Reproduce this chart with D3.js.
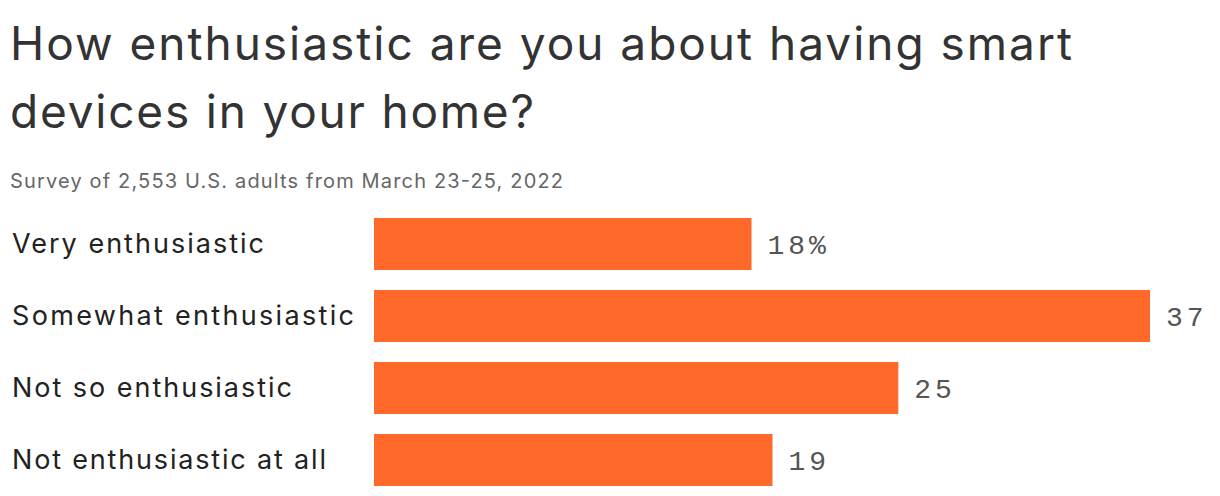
<!DOCTYPE html>
<html><head><meta charset="utf-8">
<script src="https://cdn.jsdelivr.net/npm/d3@7"></script>
<style>body{margin:0;background:#fff}</style></head>
<body><svg id="c" width="1220" height="496"></svg>
<script>
const categories = ["Very enthusiastic","Somewhat enthusiastic","Not so enthusiastic","Not enthusiastic at all"];
const values = [18,37,25,19];
const valueLabels = ["18%","37","25","19"];

const svg = d3.select("#c");
const font = "Inter, 'Noto Sans', sans-serif";
svg.append("text").attr("x",10).attr("y",60).attr("font-family",font).attr("font-size",46).attr("fill","#333").attr("textLength",1062).attr("lengthAdjust","spacing").text("How enthusiastic are you about having smart");
svg.append("text").attr("x",10).attr("y",128).attr("font-family",font).attr("font-size",46).attr("fill","#333").attr("textLength",524).attr("lengthAdjust","spacing").text("devices in your home?");
svg.append("text").attr("x",10).attr("y",188).attr("font-family",font).attr("font-size",20).attr("fill","#666").attr("textLength",553).attr("lengthAdjust","spacing").text("Survey of 2,553 U.S. adults from March 23-25, 2022");

const x = d3.scaleLinear().domain([0,37]).range([374,1150]);
const y = d3.scaleBand().domain(categories).range([208,496]).paddingInner(20/72).paddingOuter(10/72);
const catLen = [252,342,280,314];

const g = svg.append("g");
g.selectAll("rect").data(categories).join("rect")
 .attr("x",x(0)).attr("y",d=>y(d)).attr("height",y.bandwidth())
 .attr("width",(d,i)=>x(values[i])-x(0)).attr("fill","#ff6a2a");
g.selectAll("text.cat").data(categories).join("text").attr("class","cat")
 .attr("x",12).attr("y",d=>y(d)+y.bandwidth()/2).attr("dy","0.35em")
 .attr("font-family",font).attr("font-size",27).attr("fill","#222")
 .attr("textLength",(d,i)=>catLen[i]).attr("lengthAdjust","spacing").text(d=>d);
g.selectAll("text.val").data(categories).join("text").attr("class","val")
 .attr("x",(d,i)=>x(values[i])+16).attr("y",d=>y(d)+y.bandwidth()/2).attr("dy","0.35em")
 .attr("font-family","'Liberation Mono', monospace").attr("font-size",28).attr("fill","#555")
 .attr("letter-spacing",4)
 .text((d,i)=>valueLabels[i]);
</script></body></html>
